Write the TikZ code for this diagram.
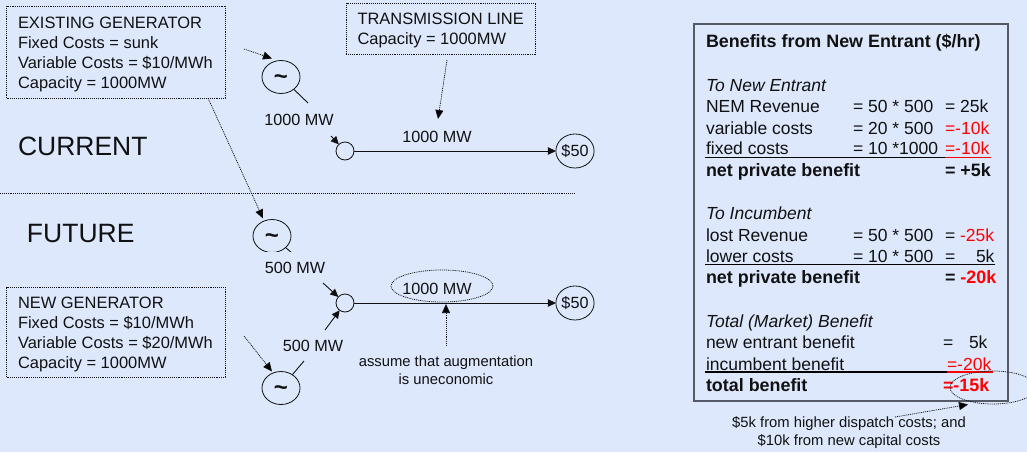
\documentclass[tikz,border=0pt]{standalone}
\usepackage{fontspec}
\setmainfont{Liberation Sans}
\usetikzlibrary{arrows.meta,shapes.geometric}
\definecolor{bgc}{HTML}{DDE8FD}
\definecolor{ink}{HTML}{111111}
\definecolor{redt}{HTML}{FF0000}
\definecolor{frame}{HTML}{555A66}
\newcommand{\tildemark}{\smash{\raisebox{-7pt}{\char`\~}}}
\tikzset{
  x=1pt,y=-1pt,
  every node/.style={text=ink,inner sep=0pt,outer sep=0pt},
  body/.style={font=\fontsize{16.2}{20}\selectfont},
  small/.style={font=\fontsize{14.8}{18}\selectfont,align=center},
  big/.style={font=\fontsize{26.5}{30}\selectfont,anchor=base west},
  fine/.style={dash pattern=on 1pt off .9pt,line width=.75pt},
  infobox/.style={draw=ink,fine,anchor=north west},
  gen/.style={draw=ink,ellipse,line width=.8pt,minimum width=38pt,minimum height=33pt,font=\fontsize{24}{24}\bfseries\selectfont},
  bus/.style={draw=ink,ellipse,line width=.8pt,minimum width=18pt,minimum height=18pt},
  price/.style={draw=ink,ellipse,line width=.8pt,minimum width=38pt,minimum height=34pt,body},
  cell/.style={font=\fontsize{17.5}{20}\selectfont,anchor=base west},
  cellb/.style={font=\fontsize{17.9}{20}\bfseries\selectfont,anchor=base west},
  celli/.style={font=\fontsize{17.5}{20}\itshape\selectfont,anchor=base west},
  flow/.style={line width=.9pt,-{Triangle[length=8pt,width=7.5pt]},draw=ink},
  wire/.style={line width=.9pt,draw=ink},
  note/.style={fine,draw=ink,-{Triangle[length=9pt,width=8pt,sep=0pt,fill=black]}},
  rule/.style={line width=1.6pt,draw=black},
  rulered/.style={line width=1.6pt,draw=redt},
  boxtext/.style={font=\fontsize{16.45}{20}\selectfont,anchor=base west,align=left},
}
\begin{document}
\begin{tikzpicture}
\useasboundingbox[fill=bgc] (0,0) rectangle (1027,452);

% left info boxes
\node[infobox,minimum width=218.5pt,minimum height=91.5pt] (existing) at (6.5,6.5) {};
\node[boxtext] (existingt) at (18,88.5)
  {EXISTING GENERATOR\\Fixed Costs = sunk\\Variable Costs = \$10/MWh\\Capacity = 1000MW};
\node[infobox,minimum width=189pt,minimum height=51pt] (transbox) at (346,3) {};
\node[boxtext] (transt) at (357.5,45)
  {TRANSMISSION LINE\\Capacity = 1000MW};
\node[infobox,minimum width=218.5pt,minimum height=90pt] (newgen) at (6.5,287) {};
\node[boxtext] (newt) at (18,368)
  {NEW GENERATOR\\Fixed Costs = \$10/MWh\\Variable Costs = \$20/MWh\\Capacity = 1000MW};

\node[big] (current) at (18,155) {CURRENT};
\node[big] (future) at (27,242) {FUTURE};

\coordinate (divL) at (0,193);
\coordinate (divR) at (575,193);
\draw[fine,draw=ink] (divL) -- (divR);

% current network
\node[gen] (g1) at (281,77) {\tildemark};
\node[bus] (b1) at (345,151) {};
\node[price] (p1) at (575,151) {\$50};
\coordinate (g1e) at (308,103);
\coordinate (b1s) at (331,136);
\draw[wire] (g1) -- (g1e);
\draw[flow] (b1s) -- (b1);
\draw[flow] (b1) -- (p1);
\node[body] (l1) at (299,120) {1000 MW};
\node[body] (l2) at (437,137) {1000 MW};

\coordinate (n1s) at (244,49);
\coordinate (n1e) at (272,58.5);
\draw[note] (n1s) -- (n1e);
\coordinate (n2s) at (447,60);
\coordinate (n2e) at (438,119);
\draw[note] (n2s) -- (n2e);

% future network
\node[gen] (g2) at (272,236) {\tildemark};
\node[gen] (g3) at (281,388) {\tildemark};
\node[bus] (b2) at (345,303) {};
\node[price] (p2) at (575,303) {\$50};
\coordinate (g2e) at (292,253);
\coordinate (g3e) at (304,361);
\coordinate (b2a) at (323,283);
\coordinate (b2b) at (325,330);
\draw[wire] (g2) -- (g2e);
\draw[wire] (g3) -- (g3e);
\draw[flow] (b2a) -- (b2);
\draw[flow] (b2b) -- (b2);
\draw[flow] (b2) -- (p2);
\fill[bgc] (255,252) rectangle (340,260);
\node[body] (l3) at (295,268) {500 MW};
\node[body] (l4) at (313,346) {500 MW};
\node[draw=ink,fine,ellipse,minimum width=102pt,minimum height=32pt] (cap) at (442,286) {};
\node[body] (l5) at (437,289) {1000 MW};
\node[small] (assume) at (446,370) {assume that augmentation\\is uneconomic};

\coordinate (n3s) at (208,98);
\coordinate (n3e) at (263,218.5);
\draw[note] (n3s) -- (n3e);
\coordinate (n4s) at (244,336);
\coordinate (n4e) at (272,371.5);
\draw[note] (n4s) -- (n4e);
\coordinate (n5s) at (446,346);
\coordinate (n5e) at (446,304);
\draw[note] (n5s) -- (n5e);

% benefits table
\node[draw=frame,line width=1.1pt,anchor=north west,minimum width=314pt,minimum height=377pt] (table) at (694,24) {};
\node[cellb] (t0) at (706,48) {Benefits from New Entrant (\$/hr)};

\node[celli] (a0) at (706,91) {To New Entrant};
\node[cell] (a1) at (706,112) {NEM Revenue};
\node[cell] (a1b) at (853,112) {= 50 * 500};
\node[cell] (a1c) at (945,112) {= 25k};
\node[cell] (a2) at (706,134) {variable costs};
\node[cell] (a2b) at (853,134) {= 20 * 500};
\node[cell,text=redt] (a2c) at (945,134) {=-10k};
\node[cell] (a3) at (706,154) {fixed costs};
\node[cell] (a3b) at (853,154) {= 10 *1000};
\node[cell,text=redt] (a3c) at (945,154) {=-10k};
\coordinate (r1a) at (705,157.5); \coordinate (r1b) at (945,157.5); \coordinate (r1c) at (991,157.5);
\draw[rule] (r1a) -- (r1b);
\draw[rulered] (r1b) -- (r1c);
\node[cellb] (a4) at (706,176) {net private benefit};
\node[cellb] (a4c) at (945,176) {= +5k};

\node[celli] (c0) at (706,219) {To Incumbent};
\node[cell] (c1) at (706,241) {lost Revenue};
\node[cell] (c1b) at (853,241) {= 50 * 500};
\node[cell] (c1c) at (945,241) {= \textcolor{redt}{-25k}};
\node[cell] (c2) at (706,262) {lower costs};
\node[cell] (c2b) at (853,262) {= 10 * 500};
\node[cell] (c2c) at (945,262) {=};
\node[cell] (c2d) at (976,262) {5k};
\coordinate (r2a) at (705,264.5); \coordinate (r2b) at (995,264.5);
\draw[rule] (r2a) -- (r2b);
\node[cellb] (c3) at (706,283) {net private benefit};
\node[cellb] (c3c) at (945,283) {= \textcolor{redt}{-20k}};

\node[celli] (d0) at (706,327) {Total (Market) Benefit};
\node[cell] (d1) at (706,348) {new entrant benefit};
\node[cell] (d1c) at (943,348) {=};
\node[cell] (d1d) at (969,348) {5k};
\node[cell] (d2) at (706,370) {incumbent benefit};
\node[cell,text=redt] (d2c) at (947,370) {=-20k};
\coordinate (r3a) at (705,372); \coordinate (r3b) at (947,372); \coordinate (r3c) at (993,372);
\draw[rule] (r3a) -- (r3b);
\draw[rulered] (r3b) -- (r3c);
\node[cellb] (d3) at (706,391) {total benefit};
\node[cellb,text=redt] (d3c) at (943,391) {=-15k};

\node[draw=ink,fine,ellipse,minimum width=86pt,minimum height=33pt] (tot) at (993,387.5) {};
\node[small] (why) at (849,433) {\$5k from higher dispatch costs; and\\\$10k from new capital costs};
\coordinate (n6s) at (895,417);
\coordinate (n6e) at (968,404.5);
\draw[note] (n6s) -- (n6e);
\end{tikzpicture}
\end{document}
